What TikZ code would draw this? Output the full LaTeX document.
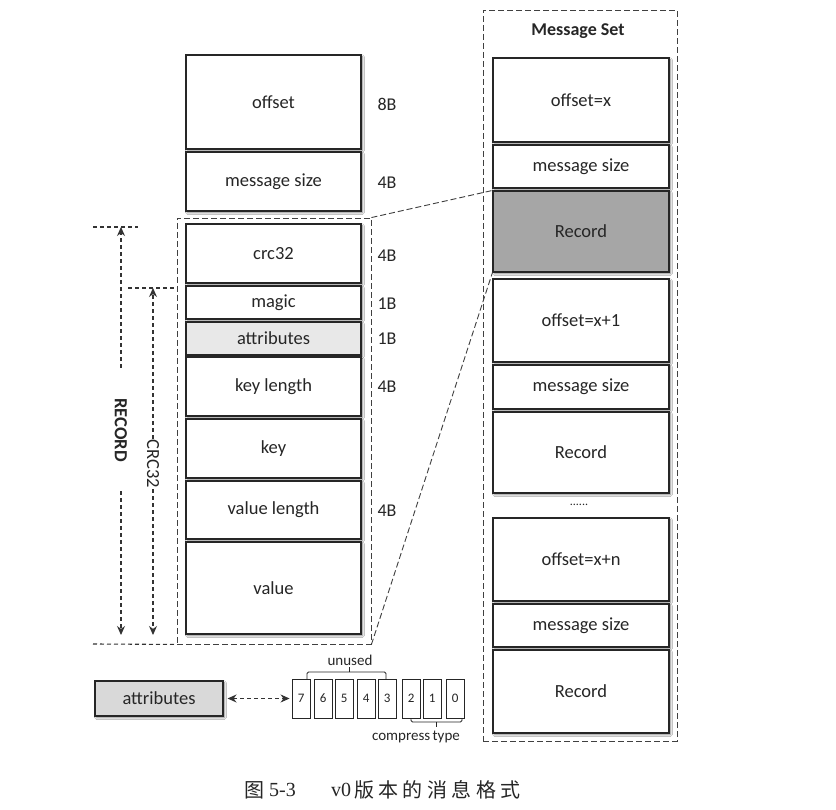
\documentclass[tikz,border=0pt]{standalone}
\usepackage{fontspec}
\setmainfont{Carlito}
\newfontfamily\cjk[LetterSpace=22]{Noto Sans CJK SC}
\newfontfamily\capserif{Liberation Serif}
\usetikzlibrary{arrows.meta,shadows.blur,fit}
\begin{document}
\begin{tikzpicture}[x=1pt,y=-1pt,
  every node/.style={text=black!85},
  bt/.style={font=\fontsize{18.5}{21}\selectfont, inner sep=0pt, text=black!85},
  box/.style={draw=black!85, line width=1.1pt, fill=white, inner sep=0pt,
    blur shadow={shadow xshift=1.4pt, shadow yshift=-1.7pt, shadow blur steps=4, shadow opacity=50},
    label={[bt]center:#1}},
  bit/.style={draw=black!85, line width=0.9pt, fill=white, inner sep=0pt,
    label={[inner sep=0pt, font=\fontsize{13}{15}\selectfont]center:#1}},
  grp/.style={draw=black!75, line width=0.9pt, dash pattern=on 6pt off 3pt, inner sep=0pt},
  dl/.style={draw=black!80, line width=1.1pt, dash pattern=on 4pt off 3pt},
  brk/.style={draw=black!85, line width=0.9pt, rounded corners=1.5pt},
  sz/.style={font=\fontsize{18}{21}\selectfont},
  lbl/.style={font=\fontsize{15}{17}\selectfont, inner sep=0pt},
  tipA/.tip={Stealth[length=9pt,width=8pt]},
  tip/.style={-tipA}
]
\useasboundingbox (0,0) rectangle (836,810);
\fill[white] (0,0) rectangle (836,810);

% ---------- left column ----------
\node[box=offset, fit={(186,55)(361,149)}] (off) {};
\node[box=message size, fit={(186,152)(361,211)}] (ms) {};
\node[grp, fit={(177,218)(371,644)}] (grp) {};
\node[box=crc32, fit={(186,224)(361,283)}] (crc) {};
\node[box=magic, fit={(186,286)(361,319)}] (magic) {};
\node[box=attributes, fill=black!9, fit={(186,322)(361,355)}] (attr) {};
\node[box=key length, fit={(186,357)(361,416)}] (klen) {};
\node[box=key, fit={(186,419)(361,478)}] (key) {};
\node[box=value length, fit={(186,481)(361,539)}] (vlen) {};
\node[box=value, fit={(186,542)(361,634)}] (val) {};

\node[sz] (s1) at (387,104) {8B};
\node[sz] (s2) at (387,183) {4B};
\node[sz] (s3) at (387,256) {4B};
\node[sz] (s4) at (387,304) {1B};
\node[sz] (s5) at (387,339) {1B};
\node[sz] (s6) at (387,387) {4B};
\node[sz] (s7) at (387,511) {4B};

% ---------- dimension arrows ----------
\coordinate (rl) at (93,227);
\coordinate (rr) at (138,227);
\coordinate (rt) at (121,227);
\coordinate (rb) at (121,635);
\coordinate (cl) at (128,288);
\coordinate (cr) at (177,288);
\coordinate (ct) at (153,288);
\coordinate (cb) at (153,635);
\coordinate (bl) at (93,644);

\draw[dl] (rl) -- (rr);
\draw[dl] (cl) -- (cr);
\draw[dl] (bl) -- (grp.south west);

\node[rotate=-90, font=\bfseries\fontsize{18.5}{21}\selectfont] (reclbl) at (121,430) {RECORD};
\draw[dl, tip, shorten <=27pt] (reclbl.west) -- (rt);
\draw[dl, tip, shorten <=26pt] (reclbl.east) -- (rb);

\node[rotate=-90, inner sep=1pt, font=\fontsize{18.5}{21}\selectfont] (crclbl) at (153,464) {CRC32};
\draw[dl, tip] (crclbl.west) -- (ct);
\draw[dl, tip] (crclbl.east) -- (cb);

% ---------- right column ----------
\node[grp, fit={(483,10)(677,741)}] (mset) {};
\node[font=\bfseries\fontsize{18}{21}\selectfont] (mstitle) at (578,31) {Message Set};
\node[box={offset=x}, fit={(493,58)(669,142)}] (off1) {};
\node[box=message size, fit={(493,145)(669,188)}] (ms1) {};
\node[box=Record, fill=black!35, fit={(493,191)(669,272)}] (rec1) {};
\node[box={offset=x+1}, fit={(493,279)(669,362)}] (off2) {};
\node[box=message size, fit={(493,365)(669,409)}] (ms2) {};
\node[box=Record, fit={(493,412)(669,493)}] (rec2) {};
\node[font=\fontsize{12}{14}\selectfont] (dots) at (579,505) {......};
\node[box={offset=x+n}, fit={(493,518)(669,601)}] (off3) {};
\node[box=message size, fit={(493,604)(669,647)}] (ms3) {};
\node[box=Record, fit={(493,650)(669,733)}] (rec3) {};

% zoom lines
\draw[grp] (grp.north east) -- (rec1.north west);
\draw[grp] (grp.south east) -- (rec1.south west);

% ---------- attributes bits ----------
\node[box=attributes, fill=black!15, fit={(95,681)(223,716)}] (attrb) {};
\foreach \i/\x in {7/292,6/314,5/335,4/357,3/378,2/402,1/423,0/446}
  \node[bit=\i, fit={(\x,679)(\x+18.5,718)}] (b\i) {};
\draw[dl, tipA-tipA, shorten <=4pt, shorten >=2pt] (attrb) -- (b7);

\coordinate (u1) at (307,679);
\coordinate (u2) at (307,672);
\coordinate (u3) at (386,672);
\coordinate (u4) at (386,679);
\coordinate (um) at (349,672);
\coordinate (ut) at (349,667);
\draw[brk] (u1) -- (u2) -- (u3) -- (u4);
\draw[brk] (um) -- (ut);
\node[lbl] (unused) at (350,660) {unused};

\coordinate (c1) at (411,718);
\coordinate (c2) at (411,722);
\coordinate (c3) at (462,722);
\coordinate (c4) at (462,718);
\coordinate (cm) at (436,722);
\coordinate (ctp) at (436,727);
\draw[brk] (c1) -- (c2) -- (c3) -- (c4);
\draw[brk] (cm) -- (ctp);
\node[lbl] (ctype) at (416,737) {compress\hspace{-1pt} type};

% ---------- caption ----------
\node[anchor=west, inner sep=0pt, font=\cjk\fontsize{20}{24}\selectfont] (capA) at (244,790) {图};
\node[anchor=west, inner sep=0pt, font=\capserif\fontsize{20}{24}\selectfont] (capB) at (269,790) {5-3};
\node[anchor=west, inner sep=0pt, font=\capserif\fontsize{20}{24}\selectfont] (capC) at (331,790) {v0};
\node[anchor=west, inner sep=0pt, font=\cjk\fontsize{20}{24}\selectfont] (capD) at (354,790) {版本的消息格式};
\end{tikzpicture}
\end{document}
